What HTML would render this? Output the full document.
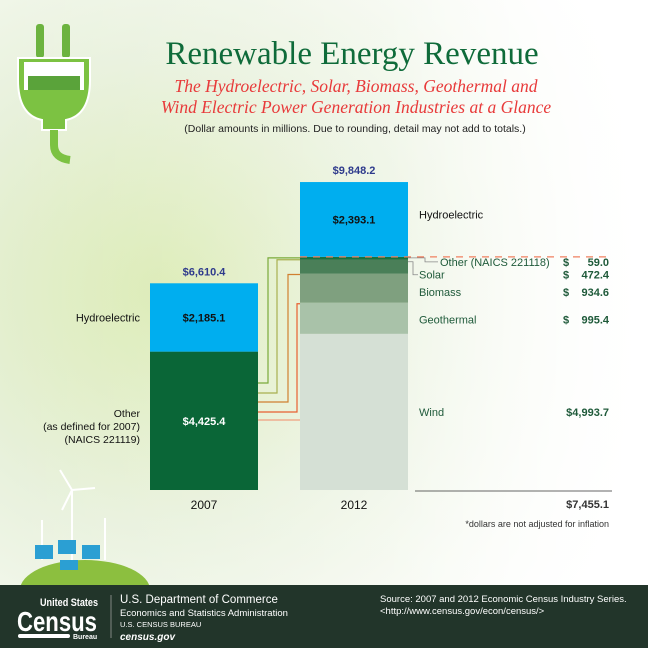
<!DOCTYPE html>
<html><head><meta charset="utf-8"><style>
body{margin:0;width:648px;height:648px;overflow:hidden;font-family:"Liberation Sans",sans-serif}
svg{display:block}
</style></head><body>
<svg id="c" width="648" height="648" viewBox="0 0 648 648">
<defs>
<radialGradient id="bg" cx="0.25" cy="0.45" r="0.8">
<stop offset="0" stop-color="#d9eab0"/><stop offset="0.45" stop-color="#e8f1dc"/><stop offset="1" stop-color="#ffffff"/>
</radialGradient>
<linearGradient id="fade" x1="0" x2="1"><stop offset="0" stop-color="#fff" stop-opacity="0"/><stop offset="0.6" stop-color="#fff" stop-opacity="0.3"/><stop offset="1" stop-color="#fff" stop-opacity="1"/></linearGradient>
</defs>
<rect width="648" height="648" fill="url(#bg)"/>
<rect width="648" height="648" fill="url(#fade)"/>
<g>
<rect x="36" y="24" width="8" height="34" rx="3" fill="#6cb33f"/><rect x="62" y="24" width="8" height="34" rx="3" fill="#6cb33f"/>
<path d="M18 58 H90 V80 Q90 115 66 120 V130 H42 V120 Q18 115 18 80Z" fill="#7cc242" stroke="#fff" stroke-width="2"/>
<rect x="24" y="62" width="60" height="28" fill="#fff"/>
<rect x="28" y="76" width="52" height="14" fill="#5aa33a"/>
<path d="M54 130 V145 Q54 158 70 160" fill="none" stroke="#7cc242" stroke-width="8"/>
</g>
<text x="352" y="64" text-anchor="middle" font-family="Liberation Serif,serif" font-size="33" fill="#0f6b3a">Renewable Energy Revenue</text>
<text x="356" y="92" text-anchor="middle" font-family="Liberation Serif,serif" font-style="italic" font-size="17.5" fill="#e83a3a">The Hydroelectric, Solar, Biomass, Geothermal and</text>
<text x="356" y="113" text-anchor="middle" font-family="Liberation Serif,serif" font-style="italic" font-size="17.5" fill="#e83a3a">Wind Electric Power Generation Industries at a Glance</text>
<text x="355" y="132" text-anchor="middle" font-size="10.5" fill="#222">(Dollar amounts in millions. Due to rounding, detail may not add to totals.)</text>
<g id="chart"></g>
<line x1="415" y1="491" x2="612" y2="491" stroke="#333" stroke-width="0.8"/>
<text x="609" y="508" text-anchor="end" font-size="11" font-weight="bold" fill="#333">$7,455.1</text>
<text x="609" y="527" text-anchor="end" font-size="9" fill="#333">*dollars are not adjusted for inflation</text>
<g stroke="#fff" stroke-width="2">
<line x1="72" y1="490" x2="72" y2="560"/><line x1="72" y1="490" x2="60" y2="470"/><line x1="72" y1="490" x2="95" y2="488"/><line x1="72" y1="490" x2="62" y2="510"/>
<line x1="42" y1="520" x2="42" y2="560"/><line x1="105" y1="518" x2="105" y2="560"/>
</g>
<ellipse cx="85" cy="590" rx="65" ry="30" fill="#8cbf3f"/>
<g fill="#2b9fd3">
<rect x="35" y="545" width="18" height="14"/><rect x="58" y="540" width="18" height="14"/><rect x="82" y="545" width="18" height="14"/><rect x="60" y="560" width="18" height="10"/>
</g>
<rect x="0" y="585" width="648" height="63" fill="#22352a"/>
<g fill="#fff">
<text x="40" y="606" font-size="11" font-weight="bold" textLength="58" lengthAdjust="spacingAndGlyphs">United States</text>
<text x="17" y="631" font-size="28" font-weight="bold" textLength="80" lengthAdjust="spacingAndGlyphs">Census</text>
<rect x="18" y="634" width="52" height="4" rx="2"/><text x="73" y="639" font-size="7" font-weight="bold">Bureau</text>
</g>
<line x1="111" y1="595" x2="111" y2="638" stroke="#aaa" stroke-width="0.7"/>
<g fill="#fff">
<text x="120" y="603" font-size="11.5">U.S. Department of Commerce</text>
<text x="120" y="616" font-size="9.5">Economics and Statistics Administration</text>
<text x="120" y="627" font-size="7.5">U.S. CENSUS BUREAU</text>
<text x="120" y="640" font-size="10" font-weight="bold" font-style="italic">census.gov</text>
</g>
<g fill="#fff" font-size="9.5">
<text x="380" y="602">Source: 2007 and 2012 Economic Census Industry Series.</text>
<text x="380" y="614">&lt;http://www.census.gov/econ/census/&gt;</text>
</g>
</svg>
<script>
const years = ["2007","2012"];
const seg2007 = ["Other","Hydroelectric"];
const val2007 = [4425.4, 2185.1];
const seg2012 = ["Other (NAICS 221118)","Solar","Biomass","Geothermal","Wind","Hydroelectric"];
const val2012 = [59.0, 472.4, 934.6, 995.4, 4993.7, 2393.1];
const totals = ["$6,610.4","$9,848.2"];
const label2007 = ["$4,425.4","$2,185.1"];
const label2012val = ["$   59.0","$  472.4","$  934.6","$  995.4","$4,993.7","$2,393.1"];

const NS="http://www.w3.org/2000/svg";
const g=document.getElementById('chart');
const base=490, k=0.03127;
const y=v=>base-v*k;
function el(t,a){const e=document.createElementNS(NS,t);for(const n in a)e.setAttribute(n,a[n]);g.appendChild(e);return e;}
const bx=[150,300], bw=108;
const c07=["#0a6637","#00aeef"];
let acc=0;
val2007.forEach((v,i)=>{
 const r=el('rect',{x:bx[0],y:y(acc+v),width:bw,height:v*k,fill:c07[i]});
 
 
 const t=el('text',{x:bx[0]+bw/2,y:y(acc+v/2)+4,'text-anchor':'middle','font-size':11,'font-weight':'bold',fill:i==0?'#fff':'#111'});
 t.textContent=label2007[i];
 
 
 acc+=v;
});
const tot07=acc;
const order=[4,3,2,1,0,5];
const c12={0:"#17703f",1:"#4a7f58",2:"#7fa07f",3:"#a9c2a9",4:"#d5e0d5",5:"#00aeef"};
const segTop={},segMid={};
acc=0;
order.forEach(i=>{
 const v=val2012[i];
 const r=el('rect',{x:bx[1],y:y(acc+v),width:bw,height:Math.max(v*k,2.5),fill:c12[i]});
 
 
 segTop[i]=y(acc+v); segMid[i]=y(acc+v/2);
 acc+=v;
});
const tot12=acc;
const h=el('text',{x:bx[1]+bw/2,y:segMid[5]+4,'text-anchor':'middle','font-size':11,'font-weight':'bold',fill:'#111'});
h.textContent=label2012val[5];


[tot07,tot12].forEach((t,i)=>{
 const e=el('text',{x:bx[i]+bw/2,y:y(t)-8,'text-anchor':'middle','font-size':11,'font-weight':'bold',fill:'#2e3a8c'});
 e.textContent=totals[i];
 
 
 const yl=el('text',{x:bx[i]+bw/2,y:base+19,'text-anchor':'middle','font-size':12,fill:'#111'});
 yl.textContent=years[i];
 
 
});
const lh=el('text',{x:140,y:y(val2007[0]+val2007[1]/2)+4,'text-anchor':'end','font-size':11,fill:'#111'});
lh.textContent='Hydroelectric';


["Other","(as defined for 2007)","(NAICS 221119)"].forEach((s,j)=>{
 const t=el('text',{x:140,y:y(val2007[0]/2)-4+j*13,'text-anchor':'end','font-size':10.5,fill:'#111'});
 t.textContent=s;
 
 
});
const d=el('line',{x1:bx[1],y1:segTop[0],x2:612,y2:segTop[0],stroke:'#f08060','stroke-width':1.2,'stroke-dasharray':'7,6'});


const conn=[[0,268,383,"#7aaa3a"],[1,277,393,"#a8b050"],[2,288,402,"#d08030"],[3,297,412,"#e86030"]];
conn.forEach(([i,vx,hy,col])=>{
 const ty=segTop[i]+1;
 const p=el('path',{d:`M258 ${hy} H${vx} V${ty} H300`,fill:'none',stroke:col,'stroke-width':1.2});
 
 
});
const l5=el('line',{x1:258,y1:420,x2:300,y2:420,stroke:'#f0a080','stroke-width':1.2});


const labY={0:segTop[0]+9,1:segTop[1]+20,2:segMid[2]+8,3:segMid[3]+5,4:segMid[4]+4,5:segMid[5]-1};
const labX={0:440};
[0,1,2,3,4,5].forEach(i=>{
 const t=el('text',{x:labX[i]||419,y:labY[i],'font-size':11,fill:i==5?'#111':'#1f5a3a'});
 t.textContent=i==0?'Other (NAICS 221118)':seg2012[i];
 
 
 if(i<5){
  const parts=label2012val[i].split(/\s+/);
  const dl=el('text',{x:563,y:labY[i],'font-size':11,'font-weight':'bold',fill:'#1f5a3a'});
  dl.textContent=parts.length>1&&parts[0]=='$'?'$':'';
  
  
  const vl=el('text',{x:609,y:labY[i],'text-anchor':'end','font-size':11,'font-weight':'bold',fill:'#1f5a3a'});
  vl.textContent=parts.length>1?parts[parts.length-1]:label2012val[i];
  
  
 }
});
const ol=el('path',{d:`M408 ${segTop[0]+1} H425 V${labY[0]-4} H438`,fill:'none',stroke:'#888','stroke-width':0.8});


const sl=el('path',{d:`M408 ${segTop[1]+3} H413 V${labY[1]-4} H418`,fill:'none',stroke:'#888','stroke-width':0.8});


</script>
</body></html>
